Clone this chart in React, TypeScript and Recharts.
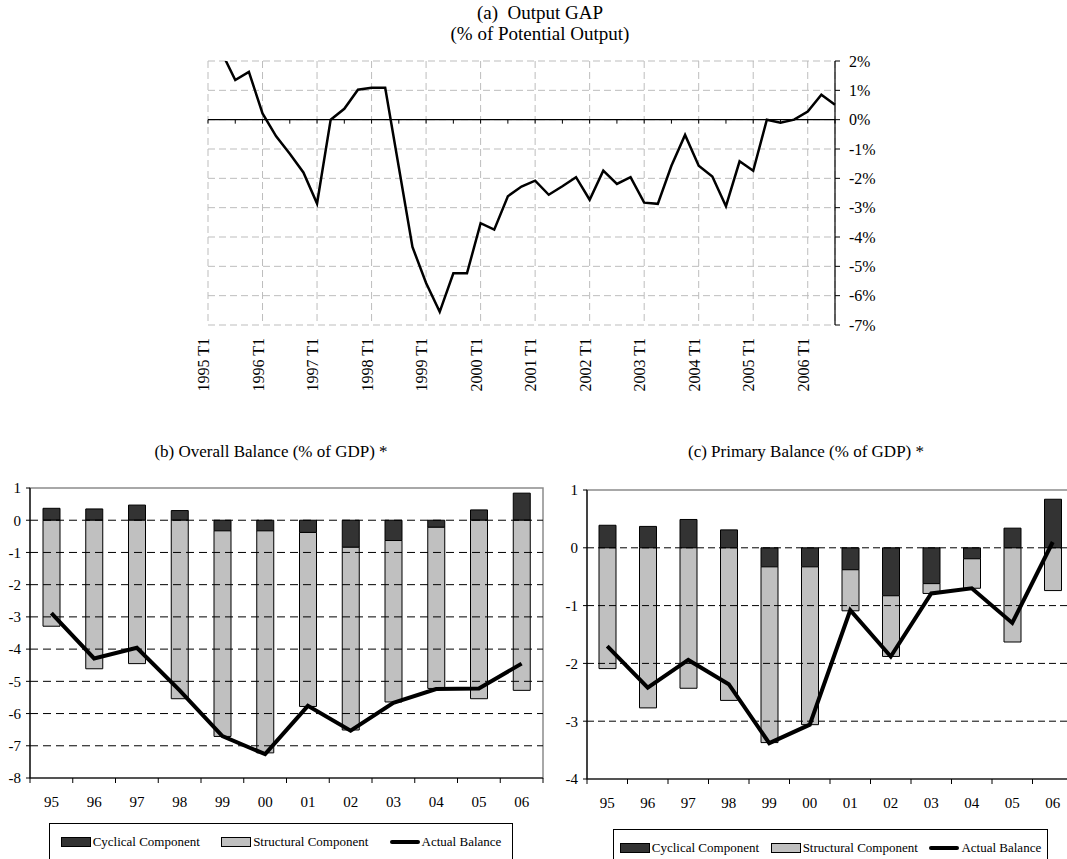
import React from 'react';
import {
  Bar,
  CartesianGrid,
  ComposedChart,
  Line,
  LineChart,
  ReferenceArea,
  ReferenceLine,
  XAxis,
  YAxis,
} from 'recharts';

const FONT = '"Liberation Serif", "Times New Roman", serif';

// (a) output gap, quarterly, 1995 T1 .. 2006 T3
const YEARS = ['1995', '1996', '1997', '1998', '1999', '2000', '2001', '2002', '2003', '2004', '2005', '2006'];
const QUARTER_NAMES = ['T1', 'T2', 'T3', 'T4'];
const OUTPUT_GAP = [
  2.5, 2.3, 1.35, 1.63, 0.21, -0.57, -1.16, -1.8, -2.86, 0.0, 0.37, 1.02, 1.09, 1.09, -1.62, -4.34,
  -5.57, -6.55, -5.24, -5.24, -3.53, -3.75, -2.61, -2.28, -2.08, -2.56, -2.27, -1.96, -2.73, -1.74,
  -2.19, -1.96, -2.83, -2.87, -1.57, -0.52, -1.57, -1.94, -2.95, -1.42, -1.74, 0.0, -0.1, 0.0, 0.28,
  0.85, 0.51,
];
const QUARTERS = YEARS.flatMap((y) => QUARTER_NAMES.map((q) => `${y} ${q}`)).slice(0, OUTPUT_GAP.length);
const YEAR_TICKS = QUARTERS.filter((q) => q.endsWith('T1'));
const GAP_TICKS = [2, 1, 0, -1, -2, -3, -4, -5, -6, -7];

// (b) and (c) annual balances
const FISCAL_YEARS = ['95', '96', '97', '98', '99', '00', '01', '02', '03', '04', '05', '06'];
const OVERALL_CYCLICAL = [0.37, 0.35, 0.47, 0.3, -0.33, -0.33, -0.38, -0.84, -0.63, -0.22, 0.32, 0.84];
const OVERALL_STRUCTURAL = [-3.29, -4.61, -4.45, -5.54, -6.38, -6.89, -5.4, -5.67, -5.01, -5.0, -5.54, -5.28];
const OVERALL_ACTUAL = [-2.88, -4.29, -3.96, -5.28, -6.7, -7.26, -5.76, -6.53, -5.67, -5.24, -5.22, -4.45];
const OVERALL_TICKS = [1, 0, -1, -2, -3, -4, -5, -6, -7, -8];

const PRIMARY_CYCLICAL = [0.39, 0.37, 0.49, 0.31, -0.33, -0.33, -0.38, -0.83, -0.62, -0.19, 0.34, 0.84];
const PRIMARY_STRUCTURAL = [-2.09, -2.77, -2.43, -2.64, -3.04, -2.73, -0.71, -1.05, -0.17, -0.51, -1.63, -0.74];
const PRIMARY_ACTUAL = [-1.7, -2.42, -1.94, -2.36, -3.38, -3.06, -1.08, -1.88, -0.79, -0.7, -1.3, 0.1];
const PRIMARY_TICKS = [1, 0, -1, -2, -3, -4];

const LEGEND_LABELS = ['Cyclical Component', 'Structural Component', 'Actual Balance'];

const CYC_FILL = '#333333';
const STRUCT_FILL = '#c0c0c0';

function QuarterTick({ x, y, payload }: any) {
  return (
    <text
      x={x}
      y={y}
      transform={`rotate(-90, ${x}, ${y})`}
      textAnchor="end"
      dy={1}
      fontSize={16}
      fontFamily={FONT}
      fill="#000"
    >
      {payload.value}
    </text>
  );
}

// zero line of the gap chart, with small ticks every two quarters
function ZeroAxis(props: any) {
  const { x1, y1, x2, y2 } = props;
  const step = (x2 - x1) / (QUARTERS.length - 1);
  const marks = [];
  for (let i = 0; i < QUARTERS.length; i += 2) {
    const x = x1 + i * step;
    marks.push(<line key={i} x1={x} x2={x} y1={y1} y2={y1 + 4} stroke="#000" strokeWidth={1} />);
  }
  return (
    <g>
      <line x1={x1} y1={y1} x2={x2} y2={y2} stroke="#000" strokeWidth={1.2} />
      {marks}
    </g>
  );
}

function OutputGapChart() {
  const data = QUARTERS.map((q, i) => ({ q, gap: OUTPUT_GAP[i] }));
  return (
    <div style={{ position: 'absolute', left: 0, top: 0 }}>
      <LineChart width={1067} height={420} data={data} margin={{ top: 61, right: 172, bottom: 15, left: 208 }}>
        <CartesianGrid stroke="#bdbdbd" strokeDasharray="7 4" />
        <XAxis
          dataKey="q"
          scale="point"
          ticks={YEAR_TICKS}
          interval={0}
          axisLine={false}
          tickLine={false}
          tickSize={0}
          tickMargin={13}
          height={80}
          tick={<QuarterTick />}
        />
        <YAxis
          orientation="right"
          domain={[-7, 2]}
          ticks={GAP_TICKS}
          allowDataOverflow
          width={60}
          tickFormatter={(v: number) => `${v}%`}
          axisLine={{ stroke: '#000', strokeWidth: 1.2 }}
          tickLine={{ stroke: '#000' }}
          tickSize={5}
          tickMargin={9}
          tick={{ fill: '#000', fontSize: 16, fontFamily: FONT }}
        />
        <ReferenceLine y={0} shape={<ZeroAxis />} />
        <Line dataKey="gap" stroke="#000" strokeWidth={2.5} dot={false} isAnimationActive={false} />
      </LineChart>
    </div>
  );
}

function YearTick({ x, y, payload, width, index }: any) {
  const half = payload.offset ?? width / FISCAL_YEARS.length / 2;
  const last = index === FISCAL_YEARS.length - 1;
  return (
    <g>
      <line x1={x - half} x2={x - half} y1={y} y2={y + 5} stroke="#000" />
      {last && <line x1={x + half} x2={x + half} y1={y} y2={y + 5} stroke="#000" />}
      <text x={x} y={y + 29} textAnchor="middle" fontSize={15} fontFamily={FONT} fill="#000">
        {payload.value}
      </text>
    </g>
  );
}

function Legend({ left, top, width }: { left: number; top: number; width: number }) {
  const swatch = (i: number) => {
    if (i === 2) {
      return <span style={{ display: 'inline-block', width: 30, height: 4, background: '#000', borderRadius: 2 }} />;
    }
    return (
      <span
        style={{
          display: 'inline-block',
          width: 28,
          height: 8,
          background: i === 0 ? CYC_FILL : STRUCT_FILL,
          border: '1px solid #000',
        }}
      />
    );
  };
  return (
    <div
      style={{
        position: 'absolute',
        left,
        top,
        width,
        height: 60,
        border: '1px solid #000',
        boxSizing: 'border-box',
        display: 'flex',
        justifyContent: 'space-around',
        alignItems: 'flex-start',
        paddingTop: 10,
        fontFamily: FONT,
        fontSize: 13,
        background: '#fff',
      }}
    >
      {LEGEND_LABELS.map((label, i) => (
        <span key={label} style={{ display: 'flex', alignItems: 'center' }}>
          {swatch(i)}
          <span style={{ marginLeft: 2 }}>{label}</span>
        </span>
      ))}
    </div>
  );
}

function BalancePanel({
  title,
  cyclical,
  structural,
  actual,
  ticks,
  left,
  width,
  margin,
  dash,
  titleCenter,
}: {
  title: string;
  cyclical: number[];
  structural: number[];
  actual: number[];
  ticks: number[];
  left: number;
  width: number;
  margin: { top: number; right: number; bottom: number; left: number };
  dash: string;
  titleCenter: number;
}) {
  const data = FISCAL_YEARS.map((year, i) => ({
    year,
    cyclical: cyclical[i],
    structural: structural[i],
    actual: actual[i],
  }));
  const yMax = ticks[0];
  const yMin = ticks[ticks.length - 1];
  const gridValues = ticks.filter((v) => v <= 0 && v > yMin);
  return (
    <>
      <div
        style={{
          position: 'absolute',
          left: titleCenter - 200,
          width: 400,
          top: 442,
          textAlign: 'center',
          fontFamily: FONT,
          fontSize: 17,
        }}
      >
        {title}
      </div>
      <div style={{ position: 'absolute', left, top: 440 }}>
        <ComposedChart width={width} height={380} data={data} margin={margin} stackOffset="sign">
          <ReferenceArea
            x1={FISCAL_YEARS[0]}
            x2={FISCAL_YEARS[FISCAL_YEARS.length - 1]}
            y1={yMin}
            y2={yMax}
            fill="none"
            stroke="#8c8c8c"
            strokeWidth={1.5}
          />
          {gridValues.map((v) => (
            <ReferenceLine key={v} y={v} stroke="#000" strokeDasharray={dash} />
          ))}
          <XAxis
            dataKey="year"
            axisLine={{ stroke: '#000', strokeWidth: 1.2 }}
            tickLine={false}
            tickSize={0}
            tickMargin={0}
            height={30}
            tick={<YearTick />}
            interval={0}
          />
          <YAxis
            domain={[yMin, yMax]}
            ticks={ticks}
            width={30}
            axisLine={{ stroke: '#000', strokeWidth: 1.2 }}
            tickLine={{ stroke: '#000' }}
            tickSize={4}
            tickMargin={5}
            tick={{ fill: '#000', fontSize: 15, fontFamily: FONT }}
          />
          <Bar dataKey="cyclical" stackId="a" fill={CYC_FILL} stroke="#000" strokeWidth={1} barSize={17} isAnimationActive={false} />
          <Bar dataKey="structural" stackId="a" fill={STRUCT_FILL} stroke="#000" strokeWidth={1} barSize={17} isAnimationActive={false} />
          <Line dataKey="actual" stroke="#000" strokeWidth={4} dot={false} isAnimationActive={false} />
        </ComposedChart>
      </div>
    </>
  );
}

export default function App() {
  return (
    <div
      style={{
        position: 'fixed',
        left: 0,
        top: 0,
        width: 1067,
        height: 859,
        overflow: 'hidden',
        background: '#fff',
        fontFamily: FONT,
      }}
    >
      <div
        style={{
          position: 'absolute',
          left: 340,
          width: 400,
          top: 2,
          textAlign: 'center',
          fontSize: 19,
          lineHeight: '21px',
        }}
      >
        <div>(a)&nbsp; Output GAP</div>
        <div>(% of Potential Output)</div>
      </div>
      <OutputGapChart />
      <BalancePanel
        title="(b) Overall Balance (% of GDP) *"
        cyclical={OVERALL_CYCLICAL}
        structural={OVERALL_STRUCTURAL}
        actual={OVERALL_ACTUAL}
        ticks={OVERALL_TICKS}
        left={0}
        width={560}
        margin={{ top: 48, right: 17, bottom: 12, left: 0 }}
        dash="8 5"
        titleCenter={271}
      />
      <BalancePanel
        title="(c) Primary Balance (% of GDP) *"
        cyclical={PRIMARY_CYCLICAL}
        structural={PRIMARY_STRUCTURAL}
        actual={PRIMARY_ACTUAL}
        ticks={PRIMARY_TICKS}
        left={540}
        width={540}
        margin={{ top: 50, right: 7, bottom: 11, left: 17 }}
        dash="7 4"
        titleCenter={806}
      />
      <Legend left={49} top={823} width={464} />
      <Legend left={613} top={829} width={435} />
    </div>
  );
}
